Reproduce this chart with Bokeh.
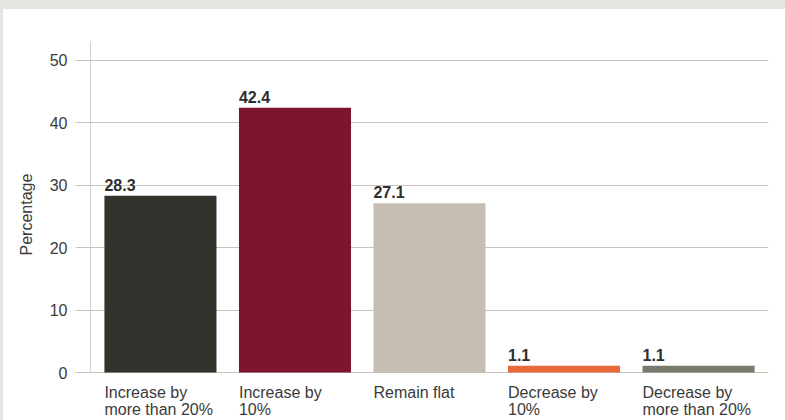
from bokeh.plotting import figure
from bokeh.models import ColumnDataSource, LabelSet, FixedTicker, Range1d, Div, Title
from bokeh.layouts import column, row
from bokeh.core.properties import value
from bokeh.embed import file_html
from bokeh.resources import INLINE

# ---- data ----
categories = ["Increase by\nmore than 20%", "Increase by\n10%", "Remain flat",
              "Decrease by\n10%", "Decrease by\nmore than 20%"]
values = [28.3, 42.4, 27.1, 1.1, 1.1]
bar_colors = ["#33332D", "#7B1530", "#C6BEB4", "#E8693A", "#7A7B6E"]
y_ticks = [0, 10, 20, 30, 40, 50]
y_title = "Percentage"

FONT = "Liberation Sans"
TEXT_COLOR = "#3A3A3A"
GRID_COLOR = "#CBC3BB"
FRAME_GREY = "#E6E5E1"
BAR_W = 0.833

# layout geometry (pixels)
BAND_L, BAND_T = 3, 9
FIG_W, FIG_H = 785 - BAND_L, 420 - BAND_T
TOP, BOTTOM_GAP = 32, 48          # frame top; space below the zero line
Y_MAX = 53
px_per_unit = (FIG_H - TOP - BOTTOM_GAP) / Y_MAX
Y_MIN = -BOTTOM_GAP / px_per_unit  # frame extends below zero to host category labels

idx = list(range(len(values)))
left = [i - BAR_W / 2 for i in idx]
line1 = [c.split("\n")[0] for c in categories]
line2 = [c.split("\n")[1] if "\n" in c else "" for c in categories]

src = ColumnDataSource(dict(
    x=idx, left=left, top=values, color=bar_colors,
    label=[f"{v:.1f}" for v in values], zero=[0] * len(values),
    line1=line1, line2=line2,
))

p = figure(width=FIG_W, height=FIG_H, output_backend="svg", toolbar_location=None,
           x_range=Range1d(-0.52, 4.52), y_range=Range1d(Y_MIN, Y_MAX),
           x_axis_location=None,
           min_border_left=87, min_border_right=17,
           min_border_top=TOP, min_border_bottom=0)
p.title = None
p.outline_line_color = None
p.background_fill_color = "white"
p.border_fill_color = "white"

p.xgrid.visible = False
p.ygrid.ticker = FixedTicker(ticks=y_ticks)
p.ygrid.grid_line_color = GRID_COLOR
p.ygrid.grid_line_width = 1

yax = p.yaxis[0]
yax.ticker = FixedTicker(ticks=y_ticks)
yax.bounds = (0, Y_MAX)
yax.axis_line_color = "#D6CFC8"
yax.major_tick_out = 15
yax.major_tick_in = 0
yax.major_tick_line_color = GRID_COLOR
yax.minor_tick_line_color = None
yax.major_label_standoff = 8
yax.major_label_text_font = FONT
yax.major_label_text_font_size = "16px"
yax.major_label_text_color = TEXT_COLOR

# y-axis title, centred on the 0..53 part of the axis (not the label area below)
ytitle = Title(text=y_title, align="left", offset=165,
               text_font=FONT, text_font_size="16px", text_font_style="normal",
               text_color=TEXT_COLOR, standoff=24)
p.add_layout(ytitle, "left")

p.vbar(x="x", top="top", bottom=0, width=BAR_W, fill_color="color",
       line_color=None, source=src)

vals = LabelSet(x="left", y="top", text="label", source=src, y_offset=5,
                text_baseline="alphabetic", text_align="left",
                text_font=value(FONT), text_font_size=value("16px"),
                text_font_style=value("bold"), text_color=value("#2E2E2E"))
p.add_layout(vals)

cat1 = LabelSet(x="left", y="zero", text="line1", source=src, y_offset=-25.5,
                text_baseline="alphabetic", text_align="left",
                text_font=value(FONT), text_font_size=value("16px"),
                text_color=value(TEXT_COLOR))
cat2 = LabelSet(x="left", y="zero", text="line2", source=src, y_offset=-42.8,
                text_baseline="alphabetic", text_align="left",
                text_font=value(FONT), text_font_size=value("16px"),
                text_color=value(TEXT_COLOR))
p.add_layout(cat1)
p.add_layout(cat2)

top_band = Div(text="", width=785, height=BAND_T, margin=0,
               styles={"background-color": FRAME_GREY})
left_band = Div(text="", width=BAND_L, height=FIG_H, margin=0,
                styles={"background-color": FRAME_GREY})
layout = column(top_band, row(left_band, p, spacing=0), spacing=0)

with open("out.html", "w") as f:
    f.write(file_html(layout, INLINE))
